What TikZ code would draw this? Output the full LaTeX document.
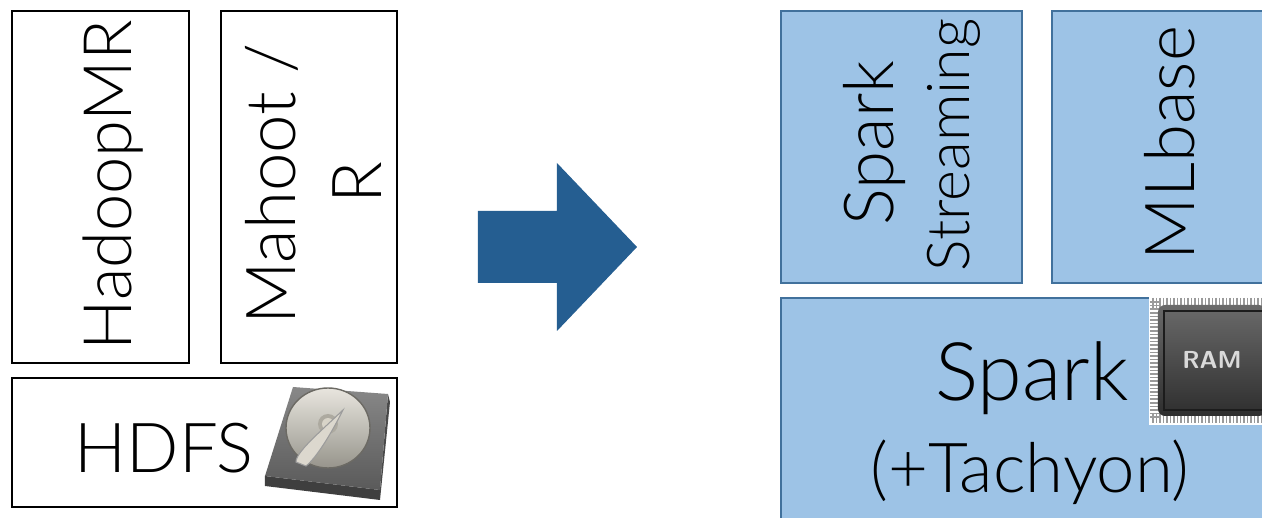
\documentclass[tikz,border=0pt]{standalone}
\usepackage{fontspec}
\setmainfont{Lato}[UprightFont={* Light}]
\usepackage{tikz}
\usetikzlibrary{calc}
\definecolor{ink}{HTML}{000000}
\definecolor{sparkfill}{HTML}{9DC3E6}
\definecolor{sparkline}{HTML}{41719C}
\definecolor{arrowblue}{HTML}{255E91}
\definecolor{chipdark}{HTML}{2E2E2E}
\definecolor{chiplite}{HTML}{6A6A6A}
\definecolor{pin}{HTML}{9A9A9A}
\definecolor{diskdark}{HTML}{5A5A5A}
\definecolor{disklite}{HTML}{D8D4C8}
\tikzset{
  oldbox/.style={draw=ink, line width=0.6pt, fill=white},
  newbox/.style={draw=sparkline, line width=0.5pt, fill=sparkfill},
  lab/.style={text=ink, inner sep=0pt, anchor=base, font=\fontsize{19.6}{24}\selectfont},
  labv/.style={lab, rotate=90},
  labtall/.style={labv, font=\fontsize{19}{23}\selectfont},
  labbig/.style={lab, font=\fontsize{23}{27}\selectfont},
  labsm/.style={labv, font=\fontsize{16.8}{20}\selectfont},
  pinline/.style={draw=pin, line width=0.5pt}
}

\begin{document}
\begin{tikzpicture}[x=0.01cm,y=-0.01cm]
  \useasboundingbox (0,0) rectangle (1262,518);

  % old stack
  \draw[oldbox] (12,11) rectangle (189,363);
  \draw[oldbox] (221,11) rectangle (397,363);
  \draw[oldbox] (12,378) rectangle (397,507);
  \node[labtall] (hadoop) at (131,185) {HadoopMR};
  \node[labv] (mahoot) at (295,184) {Mahoot /};
  \node[labv] (mahootr) at (382,183) {R};
  \node[lab] (hdfs) at (164,472) {HDFS};

  % disk icon
  \coordinate (D1) at (293,387);
  \coordinate (D2) at (388,394);
  \coordinate (D3) at (380,490);
  \coordinate (D4) at (265,476);
  \fill[diskdark!70!black] (D4) -- (D3) -- ($(D3)+(0,10)$) -- ($(D4)+(0,10)$) -- cycle;
  \fill[diskdark!80!black] (D2) -- (D3) -- ($(D3)+(0,10)$) -- ($(D2)+(2,8)$) -- cycle;
  \shade[top color=chiplite!80, bottom color=diskdark] (D1) -- (D2) -- (D3) -- (D4) -- cycle;
  \shade[top color=disklite!60!white, bottom color=disklite!70!black]
    (328,428) ellipse [x radius=42, y radius=40];
  \draw[disklite!50!black, line width=0.4pt] (328,428) ellipse [x radius=42, y radius=40];
  \fill[disklite!80!black] (328,424) circle (10);
  \fill[disklite] (328,424) circle (6);
  \fill[disklite!90!white, draw=diskdark!60, line width=0.3pt]
    (296,462) .. controls (296,452) and (320,432) .. (343,410)
    .. controls (330,436) and (316,458) .. (306,466) -- cycle;

  % big arrow
  \fill[arrowblue] (478,211) -- (557,211) -- (557,163) -- (637,247)
    -- (557,331) -- (557,283) -- (478,283) -- cycle;

  % new stack
  \draw[newbox] (781,11) rectangle (1022,283);
  \draw[newbox] (1052,11) rectangle (1270,283);
  \draw[newbox] (781,298) rectangle (1270,530);
  \node[labv] (spark) at (893,143) {Spark};
  \node[labsm] (streaming) at (970,145) {Streaming};
  \node[labv] (mlbase) at (1195,143) {MLbase};
  \node[labbig] (core) at (1032,400) {Spark};
  \node[lab] (tachyon) at (1030,492) {(+Tachyon)};

  % ram chip
  \fill[white] (1149,296) rectangle (1262,425);
  \foreach \i in {0,...,31}{
    \draw[pinline] ({1153+\i*3.5},298) -- ({1153+\i*3.5},308);
    \draw[pinline] ({1153+\i*3.5},413) -- ({1153+\i*3.5},423);
  }
  \foreach \j in {0,...,32}{
    \draw[pinline] (1150,{302+\j*3.6}) -- (1160,{302+\j*3.6});
  }
  \shade[top color=chiplite, bottom color=chipdark, rounded corners=2pt]
    (1158,305) rectangle (1266,416);
  \draw[chipdark!60!black, line width=0.6pt] (1164,311) rectangle (1266,410);
  \node[text=white!85!black, font=\sffamily\bfseries\fontsize{7}{8}\selectfont] (ram) at (1212,360) {RAM};
\end{tikzpicture}
\end{document}
